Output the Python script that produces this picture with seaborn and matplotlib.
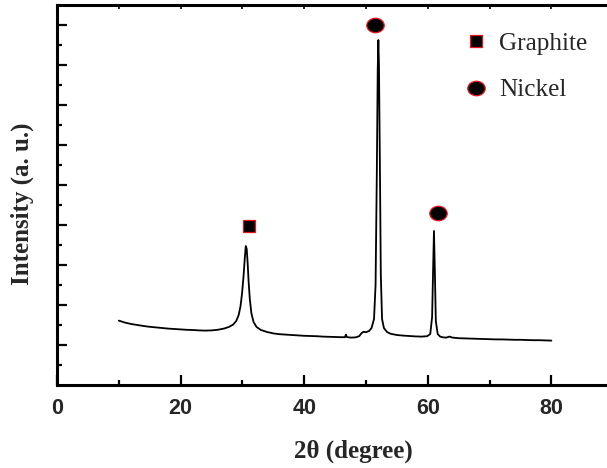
import matplotlib
matplotlib.use("Agg")
import matplotlib.pyplot as plt
import seaborn as sns
import pandas as pd
from matplotlib.lines import Line2D
from matplotlib.path import Path
from matplotlib.transforms import Affine2D

# ---- data ----
two_theta = [10, 11, 12, 13, 14, 15, 16, 17, 18, 19, 20, 21, 22, 23, 24, 25, 26, 27,
             27.8, 28.5, 29.0, 29.4, 29.7, 29.95, 30.2, 30.4, 30.55, 30.7, 30.85, 31.0,
             31.2, 31.45, 31.8, 32.3, 33.0, 34, 35, 36, 37, 38, 39, 40, 41, 42, 43, 44,
             45, 46, 46.6, 46.75, 46.9, 47.5, 48.3, 48.9, 49.3, 49.6, 50.0, 50.5, 50.9,
             51.3, 51.55, 51.75, 51.9, 52.0, 52.1, 52.25, 52.4, 52.6, 52.9, 53.4, 54, 55,
             56, 57, 58, 59, 59.9, 60.4, 60.7, 60.85, 61.0, 61.15, 61.3, 61.6, 62.0, 62.5,
             63, 63.5, 64, 65, 66, 67, 68, 69, 70, 71, 72, 73, 74, 75, 76, 77, 78, 79, 80]
intensity = [3.22, 3.12, 3.05, 3.0, 2.95, 2.91, 2.88, 2.85, 2.82, 2.8, 2.78, 2.76, 2.75,
             2.73, 2.72, 2.73, 2.76, 2.82, 2.9, 3.02, 3.2, 3.5, 3.95, 4.6, 5.5, 6.4, 6.95,
             6.8, 6.1, 5.2, 4.3, 3.6, 3.15, 2.9, 2.75, 2.65, 2.58, 2.54, 2.52, 2.5, 2.48,
             2.46, 2.45, 2.44, 2.42, 2.41, 2.4, 2.39, 2.39, 2.52, 2.4, 2.37, 2.38, 2.44,
             2.6, 2.66, 2.64, 2.7, 2.85, 3.3, 5.0, 10.5, 15.8, 17.25, 16.0, 11.0, 5.5, 3.3,
             2.85, 2.65, 2.56, 2.5, 2.47, 2.45, 2.43, 2.42, 2.44, 2.55, 3.4, 5.6, 7.7, 5.6,
             3.2, 2.55, 2.42, 2.38, 2.37, 2.42, 2.37, 2.34, 2.33, 2.32, 2.31, 2.3, 2.29,
             2.28, 2.28, 2.27, 2.26, 2.26, 2.25, 2.24, 2.24, 2.23, 2.22]

graphite_x = [31.1]
graphite_y = [7.95]
nickel_x = [51.5, 61.7]
nickel_y = [18.0, 8.6]

legend_labels = ["Graphite", "Nickel"]
x_ticks = [0, 20, 40, 60, 80]
x_minor = [10, 30, 50, 70]
y_major = [2, 4, 6, 8, 10, 12, 14, 16, 18]
y_minor = [1, 3, 5, 7, 9, 11, 13, 15, 17]

# ---- style ----
sns.set_theme(style="ticks")
plt.rcParams["font.family"] = ["Liberation Serif", "DejaVu Serif"]

W, H = 607, 468
fig = plt.figure(figsize=(W / 100, H / 100), dpi=100)
ax = fig.add_axes([57 / W, (H - 385) / H, 550 / W, 380 / H])

df = pd.DataFrame({"two_theta": two_theta, "intensity": intensity})
sns.lineplot(data=df, x="two_theta", y="intensity", ax=ax, color="black",
             linewidth=1.3, sort=False, estimator=None)

ellipse = Path.unit_circle().transformed(Affine2D().scale(1.2, 1.0))

ax.plot(graphite_x, graphite_y, linestyle="none", marker="s", markersize=8.6,
        markerfacecolor="black", markeredgecolor="#e8141c", markeredgewidth=0.9)
ax.plot(nickel_x, nickel_y, linestyle="none", marker=ellipse, markersize=12.5,
        markerfacecolor="black", markeredgecolor="#e8141c", markeredgewidth=0.9)

handles = [
    Line2D([], [], linestyle="none", marker="s", markersize=8.6,
           markerfacecolor="black", markeredgecolor="#e8141c", markeredgewidth=0.9),
    Line2D([], [], linestyle="none", marker=ellipse, markersize=12.5,
           markerfacecolor="black", markeredgecolor="#e8141c", markeredgewidth=0.9),
]
leg = ax.legend(handles, legend_labels, loc="upper left",
                bbox_to_anchor=(463 / W, 1 - 32 / H), bbox_transform=fig.transFigure,
                frameon=False, fontsize=18.2, handlelength=1.0, handletextpad=0.42,
                labelspacing=0.95, borderpad=0, borderaxespad=0)

ax.set_xlim(0, 89)
ax.set_ylim(0, 19)
ax.set_xticks(x_ticks)
ax.set_xticks(x_minor, minor=True)
ax.set_yticks(y_major)
ax.set_yticks(y_minor, minor=True)
ax.set_yticklabels([])
ax.set_xticklabels([str(v) for v in x_ticks])

for s in ["left", "bottom", "top"]:
    ax.spines[s].set_linewidth(2.2)
    ax.spines[s].set_color("black")
ax.spines["right"].set_visible(False)

ax.tick_params(axis="both", which="major", direction="in", length=7, width=1.6,
               color="black")
ax.tick_params(axis="both", which="minor", direction="in", length=3.5, width=1.6,
               color="black")
ax.tick_params(axis="x", which="major", pad=9)
for lab in ax.get_xticklabels():
    lab.set_fontfamily("Liberation Sans")
    lab.set_fontweight("bold")
    lab.set_fontsize(15.5)

sec = ax.secondary_xaxis("top")
sec.set_xticks(x_ticks + x_minor)
sec.set_xticklabels([])
sec.tick_params(direction="in", length=3, width=1.2, color="black")
sec.spines["top"].set_visible(False)

ax.set_xlabel("2θ (degree)", fontsize=18, fontweight="bold", va="center")
ax.set_ylabel("Intensity (a. u.)", fontsize=18, fontweight="bold", va="center")
ax.xaxis.set_label_coords((353 - 57) / 550, (385 - 451) / 380)
ax.yaxis.set_label_coords((22 - 57) / 550, (385 - 204) / 380)

fig.savefig("out.png", dpi=100)
